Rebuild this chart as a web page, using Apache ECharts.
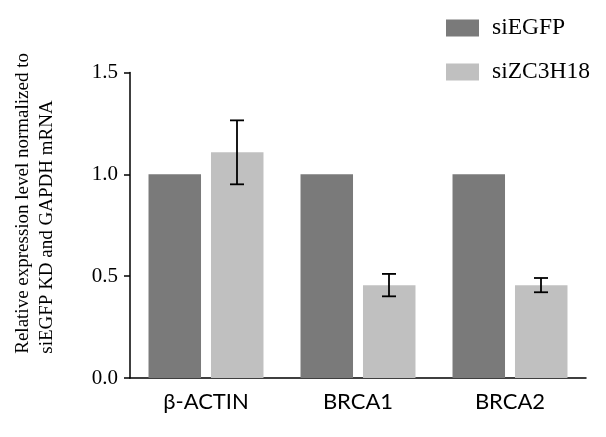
<!DOCTYPE html>
<html><head><meta charset="utf-8">
<script src="https://cdn.jsdelivr.net/npm/echarts@6/dist/echarts.min.js"></script>
<style>html,body{margin:0;padding:0;background:#fff}#c{width:606px;height:437px}</style>
</head><body><div id="c"></div>
<script>
const categories = ['β-ACTIN', 'BRCA1', 'BRCA2'];
const seriesNames = ['siEGFP', 'siZC3H18'];
const siEGFP = [1.0, 1.0, 1.0];
const siZC3H18 = [1.108, 0.456, 0.456];
const siZC3H18Err = [0.157, 0.055, 0.035];
const yTicks = [0, 0.5, 1.0, 1.5];

const chart = echarts.init(document.getElementById('c'));
const errData = categories.map((c, i) => [i, siZC3H18[i] - siZC3H18Err[i], siZC3H18[i] + siZC3H18Err[i]]);
chart.setOption({
  animation: false,
  grid: { left: 130, right: 20, top: 72.5, bottom: 59, containLabel: false },
  legend: {
    orient: 'vertical', left: 441, top: 11, itemWidth: 33, itemHeight: 17, itemGap: 20,
    icon: 'rect',
    textStyle: { fontFamily: 'Liberation Serif', fontSize: 23.5, lineHeight: 23, color: '#000', padding: [0, 0, 0, 8] },
    data: seriesNames
  },
  xAxis: {
    type: 'category', data: categories,
    axisLine: { lineStyle: { color: '#000', width: 1.5 } },
    axisTick: { alignWithLabel: true, length: 8, lineStyle: { color: '#000', width: 1.5 } },
    axisLabel: { fontFamily: 'Lato', fontSize: 22, color: '#000', margin: 13 }
  },
  yAxis: {
    type: 'value', min: 0, max: 1.5, interval: 0.5,
    axisLine: { show: true, lineStyle: { color: '#000', width: 1.5 } },
    axisTick: { show: true, length: 6, lineStyle: { color: '#000', width: 1.5 } },
    splitLine: { show: false },
    axisLabel: { fontFamily: 'Liberation Serif', fontSize: 21, color: '#000', margin: 12,
      formatter: v => yTicks.includes(v) ? v.toFixed(1) : '' }
  },
  graphic: [{
    type: 'text', left: 11, top: 53, rotation: Math.PI / 2,
    style: {
      text: 'Relative expression level normalized to\nsiEGFP KD and GAPDH mRNA',
      fontFamily: 'Liberation Serif', fontSize: 19, fill: '#000', align: 'center', lineHeight: 24
    }
  }],
  series: [
    { name: seriesNames[0], type: 'bar', data: siEGFP, barWidth: 52.5, barGap: '19%',
      itemStyle: { color: '#7a7a7a' } },
    { name: seriesNames[1], type: 'bar', data: siZC3H18, barWidth: 52.5,
      itemStyle: { color: '#c0c0c0' } },
    { type: 'custom', data: errData, z: 10,
      renderItem: (params, api) => {
        const i = api.value(0);
        const lo = api.coord([i, api.value(1)]);
        const hi = api.coord([i, api.value(2)]);
        const x = lo[0] + 31;
        const w = 7;
        const st = { stroke: '#000', lineWidth: 1.8 };
        return { type: 'group', children: [
          { type: 'line', shape: { x1: x, y1: lo[1], x2: x, y2: hi[1] }, style: st },
          { type: 'line', shape: { x1: x - w, y1: lo[1], x2: x + w, y2: lo[1] }, style: st },
          { type: 'line', shape: { x1: x - w, y1: hi[1], x2: x + w, y2: hi[1] }, style: st }
        ] };
      }
    }
  ]
});
</script></body></html>
